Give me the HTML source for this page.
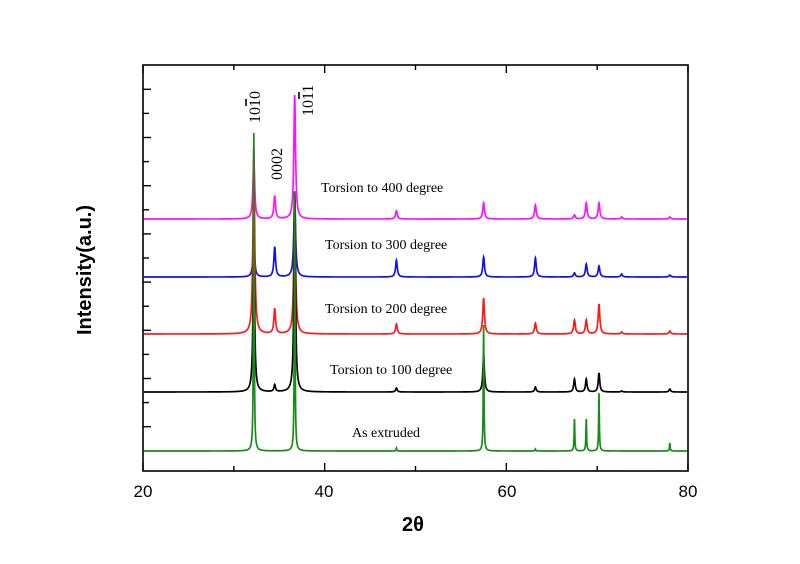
<!DOCTYPE html>
<html><head><meta charset="utf-8"><style>
body{margin:0;background:#fff}
svg{display:block}
</style></head><body>
<svg id="chart" width="800" height="564" viewBox="0 0 800 564" xmlns="http://www.w3.org/2000/svg">
<g id="series"></g>
<rect x="143" y="65" width="545" height="406" fill="none" stroke="#000" stroke-width="1.6"/>
<g id="ticks"></g>
<g font-family="Liberation Serif, serif" font-size="14" fill="#000">
<text x="321" y="192">Torsion to 400 degree</text>
<text x="325" y="249">Torsion to 300 degree</text>
<text x="325" y="313">Torsion to 200 degree</text>
<text x="330" y="374">Torsion to 100 degree</text>
<text x="352" y="437">As extruded</text>
<text font-size="16" transform="translate(260,123) rotate(-90)">1010</text>
<line x1="246" y1="99" x2="246" y2="106" stroke="#000" stroke-width="1.6"/>
<text font-size="16" transform="translate(282,180) rotate(-90)">0002</text>
<text font-size="16" transform="translate(313,116) rotate(-90)">1011</text>
<line x1="299" y1="92" x2="299" y2="99" stroke="#000" stroke-width="1.6"/>
</g>
<g font-family="Liberation Sans, sans-serif" font-size="17" fill="#000" text-anchor="middle">
<text x="143" y="497">20</text>
<text x="324" y="497">40</text>
<text x="507" y="497">60</text>
<text x="688" y="497">80</text>
<text x="413" y="531" font-weight="bold" font-size="20">2θ</text>
<text transform="translate(91,270) rotate(-90)" font-weight="bold" font-size="20">Intensity(a.u.)</text>
</g>
</svg>
<script>
const peakPos = [32.2, 34.5, 36.7, 47.9, 57.5, 63.2, 67.5, 68.8, 70.2, 72.7, 78.0];
const seriesNames = ['extruded','t100','t200','t300','t400'];
const seriesColors = ['#1a8a1a','#000000','#ff1a1a','#1010ee','#ff10ff'];
const baselines = [0, 59, 117, 174, 232];
const hExtruded = [318, 0, 260, 3, 126, 2, 32, 32, 58, 0, 8];
const h100 = [160, 7, 200, 4, 38, 5, 13, 13, 19, 1, 3];
const h200 = [187, 25, 140, 10, 36, 11, 14, 14, 30, 2, 3];
const h300 = [37, 30, 85, 17, 20, 19, 4, 13, 11, 3, 2];
const h400 = [60, 23, 124, 8, 16, 14, 4, 16, 16, 2, 2];
const heights = [hExtruded, h100, h200, h300, h400];
const widths = [0.09, 0.2, 0.22, 0.22, 0.22];

const X0=143, X1=688, Y0=451;
const xs = v => X0 + (v-20)*(X1-X0)/60;
const ys = v => Y0 - v;
const ns='http://www.w3.org/2000/svg';
const g=document.getElementById('series');
const order=[4,3,2,1,0];
order.forEach(si=>{
  const h=heights[si], w=widths[si];
  let d='';
  for(let x=20.1;x<=79.9;x+=0.02){
    let y=baselines[si];
    for(let k=0;k<peakPos.length;k++){
      const t=(x-peakPos[k])/w;
      y+=h[k]/(1+t*t*4);
    }
    d+=(d?'L':'M')+xs(x).toFixed(2)+','+ys(y).toFixed(2);
  }
  const p=document.createElementNS(ns,'path');
  p.setAttribute('d',d);p.setAttribute('fill','none');
  p.setAttribute('stroke',seriesColors[si]);p.setAttribute('stroke-width','1.7');
  
  
  g.appendChild(p);
});
const tg=document.getElementById('ticks');
function ln(x1,y1,x2,y2,name){
  const l=document.createElementNS(ns,'line');
  l.setAttribute('x1',x1);l.setAttribute('y1',y1);l.setAttribute('x2',x2);l.setAttribute('y2',y2);
  l.setAttribute('stroke','#000');l.setAttribute('stroke-width','1.4');
  
  
  tg.appendChild(l);
}
const xTicks=[20,30,40,50,60,70,80];
xTicks.forEach((v,i)=>{const len=i%2?5:8;const x=xs(v);
  ln(x,471,x,471-len,'x-tick');ln(x,65,x,65+len,'x-tick-top');});
for(let i=0;i<15;i++){const y=89.3+i*24.1;ln(143,y,143+(i%2?6:8),y,'y-tick');}
</script>
</body></html>
